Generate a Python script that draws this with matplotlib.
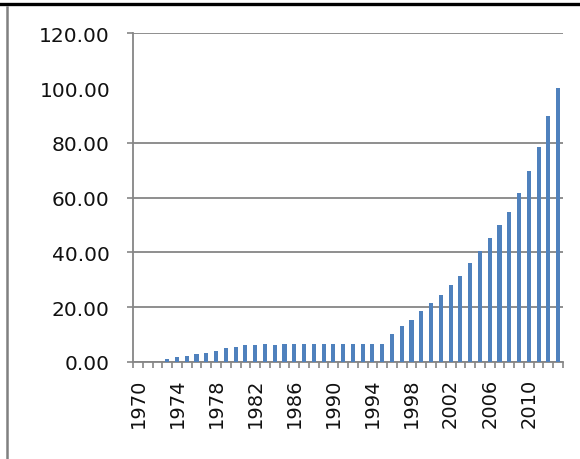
import numpy as np
import matplotlib.pyplot as plt
from matplotlib.lines import Line2D

years = list(range(1970, 2014))
values = [0, 0, 0, 1.1, 1.8, 2.2, 3.0, 3.4, 4.0, 5.1, 5.5, 6.2, 6.2, 6.6, 6.2,
          6.6, 6.6, 6.6, 6.6, 6.6, 6.6, 6.6, 6.6, 6.6, 6.6, 6.6,
          10.2, 13.1, 15.3, 18.6, 21.5, 24.4, 28.1, 31.4, 36.1, 40.5,
          45.3, 50.0, 54.8, 61.7, 69.7, 78.5, 89.8, 100.0]
gridded = [0, 20, 40, 60, 80, 120]
unticked = [100]

plt.rcParams['font.family'] = 'DejaVu Sans'

fig = plt.figure(figsize=(5.8, 4.6), dpi=100)
ax = fig.add_axes([133 / 580, 97 / 460, 430 / 580, 328.7 / 460])

x = np.arange(len(years))
ax.bar(x, values, width=0.42, color='#4F81BD', zorder=3)

ax.set_xlim(-0.5, len(years) - 0.5)
ax.set_ylim(0, 120)

# y axis: gridlines and ticks only where drawn, 100 gets a bare label
ax.set_yticks(gridded)
ax.set_yticklabels([f"{v:.2f}" for v in gridded])
ax.set_yticks(unticked, minor=True)
ax.set_yticklabels([f"{v:.2f}" for v in unticked], minor=True)
ax.tick_params(axis='y', which='major', length=4, width=1.2, color='#868686',
               labelsize=14.5, pad=13, labelcolor='#111111')
ax.tick_params(axis='y', which='minor', length=0, labelsize=14.5, pad=16,
               labelcolor='#111111')
ax.yaxis.grid(True, which='major', color='#868686', linewidth=1.3, zorder=0)

# x axis: tick marks between categories, labels every 4 years
ax.set_xticks(x[::4])
ax.set_xticklabels([str(y) for y in years[::4]], rotation=90)
ax.set_xticks(np.arange(len(years) + 1) - 0.5, minor=True)
ax.tick_params(axis='x', which='major', length=0, labelsize=14, pad=11,
               labelcolor='#111111')
ax.tick_params(axis='x', which='minor', length=4.5, width=1.2, color='#868686')

for side in ['top', 'right']:
    ax.spines[side].set_visible(False)
for side in ['left', 'bottom']:
    ax.spines[side].set_color('#868686')
    ax.spines[side].set_linewidth(1.3)

# outer frame lines
fig.add_artist(Line2D([0, 1], [0.989, 0.989], color='black', linewidth=2.4))
fig.add_artist(Line2D([0.012, 0.012], [0, 0.983], color='#808080', linewidth=1.8))

fig.savefig('out.png', dpi=100)
